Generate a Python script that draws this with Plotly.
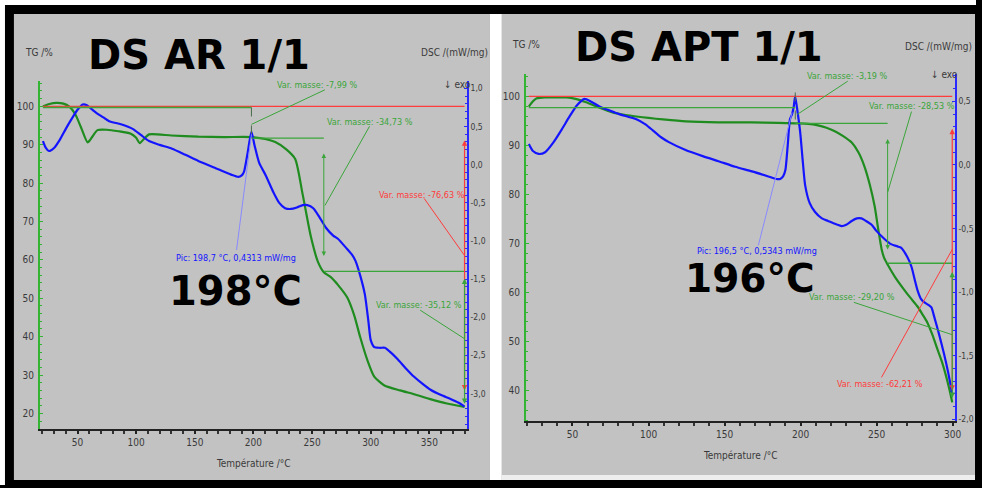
import plotly.graph_objects as go

W, H = 982, 488

# ---------------- DS AR 1/1 (left) ----------------
AR_TG_T = [20.5, 26, 32, 38, 43, 48, 53, 58.6, 62, 67, 75, 85, 95, 100, 103, 106, 111, 130, 153, 175,
           198, 210, 218.6, 228, 235.6, 242, 249, 255, 260, 266, 272, 280, 286, 291, 297, 303, 311.7,
           325, 337, 350, 365, 380]
AR_TG = [100.0, 100.6, 100.9, 100.7, 99.9, 98.0, 94.5, 90.6, 91.8, 93.8, 93.9, 93.5, 92.9, 91.8, 90.4,
         91.3, 92.7, 92.4, 92.1, 92.0, 92.0, 91.5, 90.7, 88.8, 86.3, 77.0, 66.0, 59.5, 56.8, 55.5, 53.5,
         50.2, 45.5, 39.9, 34.0, 29.6, 27.3, 26.0, 25.0, 23.8, 22.6, 21.7]
AR_DSC_T = [20.5, 23, 25.6, 30, 35, 40, 45, 50, 54.4, 58, 62, 66, 72, 77, 87, 97, 104, 111, 120, 130.6,
            142, 153, 167, 181, 187, 190, 192, 195, 198.3, 201, 205, 210.5, 217, 222, 227, 232, 237,
            242, 246, 251, 256, 262, 268, 272, 279, 284, 287, 291, 295, 298, 300, 303, 308, 312, 317,
            323, 330, 337, 344, 351, 360, 368, 375, 380]
AR_DSC = [0.31, 0.22, 0.18, 0.22, 0.33, 0.47, 0.60, 0.72, 0.79, 0.78, 0.73, 0.68, 0.62, 0.57, 0.53, 0.47,
          0.39, 0.31, 0.26, 0.21, 0.13, 0.05, -0.04, -0.13, -0.16, -0.14, -0.09, 0.15, 0.43, 0.25, 0.02,
          -0.14, -0.36, -0.50, -0.57, -0.58, -0.56, -0.53, -0.53, -0.57, -0.68, -0.83, -0.93, -0.97,
          -1.09, -1.18, -1.26, -1.45, -1.70, -2.05, -2.30, -2.39, -2.40, -2.40, -2.46, -2.55, -2.67,
          -2.78, -2.87, -2.95, -3.02, -3.07, -3.12, -3.17]
AR_DSC_TICKS = [1.0, 0.5, 0.0, -0.5, -1.0, -1.5, -2.0, -2.5, -3.0]
AR_STEP_T = [198.3, 260.0]
AR_LEVELS = [99.7, 91.7, 57.0, 21.85]
AR_LOSS = ["-7,99", "-34,73", "-35,12"]
AR_TOTAL = "-76,63"
AR_PEAK = ("198,7", "0,4313")
AR_ONSET = "198°C"

# ---------------- DS APT 1/1 (right) ----------------
APT_TG_T = [21.3, 24, 26.5, 32, 37.6, 46, 52, 59, 67, 76.8, 85, 92, 100, 109.5, 124.5, 146, 168, 185,
            196.4, 205, 211.4, 217, 222.5, 228, 233.6, 238, 242, 245.5, 248.7, 251, 253.3, 255, 257.2,
            262, 268, 272, 277, 280, 283.3, 286.5, 290, 293, 295.7, 298, 299.7]
APT_TG = [97.9, 99.0, 99.6, 99.8, 99.8, 99.8, 99.5, 98.8, 97.8, 96.7, 96.2, 95.9, 95.6, 95.3, 94.9, 94.7,
          94.7, 94.6, 94.5, 94.4, 94.1, 93.6, 92.9, 91.9, 90.6, 88.6, 85.7, 82.0, 77.6, 73.0, 68.8, 67.0,
          65.7, 63.2, 60.6, 59.0, 57.1, 55.6, 53.9, 51.5, 48.4, 45.8, 42.9, 40.0, 37.6]
APT_DSC_T = [21.3, 24, 27.8, 32, 37.6, 43, 48, 53, 57.9, 62, 67.7, 74, 80.7, 92, 98, 103, 108, 113.4, 124,
             135.6, 146, 157, 168, 178.8, 184, 186.6, 188.5, 190, 191.5, 193, 194.4, 195.5, 196.4, 197.5,
             199.7, 201.5, 203, 206, 209.5, 214, 218, 222, 227, 230, 233.6, 237, 240, 243, 246.7, 250,
             255, 259, 263.7, 266, 270, 272.9, 275, 277, 279, 281.4, 284, 286, 288, 291, 294.4, 297, 299.7]
APT_DSC = [0.165, 0.11, 0.087, 0.10, 0.18, 0.28, 0.38, 0.47, 0.52, 0.50, 0.46, 0.43, 0.40, 0.36, 0.32,
           0.27, 0.22, 0.18, 0.12, 0.07, 0.03, -0.014, -0.05, -0.09, -0.11, -0.11, -0.09, -0.04, 0.15,
           0.36, 0.40, 0.46, 0.54, 0.46, 0.26, 0.02, -0.16, -0.30, -0.37, -0.42, -0.44, -0.46, -0.48,
           -0.47, -0.44, -0.42, -0.42, -0.44, -0.47, -0.52, -0.58, -0.62, -0.64, -0.65, -0.72, -0.80,
           -0.90, -0.99, -1.05, -1.08, -1.10, -1.12, -1.20, -1.33, -1.49, -1.63, -1.80]
APT_DSC_TICKS = [0.5, 0.0, -0.5, -1.0, -1.5, -2.0]
APT_STEP_T = [196.5, 257.2]
APT_LEVELS = [97.7, 94.5, 65.97, 36.8]
APT_LOSS = ["-3,19", "-28,53", "-29,20"]
APT_TOTAL = "-62,21"
APT_PEAK = ("196,5", "0,5343")
APT_ONSET = "196°C"

TITLES = ["DS AR 1/1", "DS APT 1/1"]

# ---------------- styling ----------------
GRAY = "#c2c2c2"
GREEN = "#1f8c1f"
LGREEN = "#3aa53a"
BLUE = "#1414ff"
LBLUE = "#8a8aff"
RED = "#ff3b3b"
TXT = "#3a3a3a"
NARROW = "Liberation Sans Narrow, DejaVu Sans Condensed, Arial Narrow, sans-serif"
BOLD = "DejaVu Sans, Liberation Sans, sans-serif"


def px(x):
    return x / W


def py(y):
    return 1 - y / H


def fr(v):
    return f"{v:.1f}".replace(".", ",")


fig = go.Figure()

fig.add_trace(go.Scatter(x=AR_TG_T, y=AR_TG, mode="lines", xaxis="x", yaxis="y",
                         line=dict(color=GREEN, width=2.2, shape="spline", smoothing=0.6), showlegend=False))
fig.add_trace(go.Scatter(x=AR_DSC_T, y=AR_DSC, mode="lines", xaxis="x", yaxis="y2",
                         line=dict(color=BLUE, width=2.2, shape="spline", smoothing=0.6), showlegend=False))
fig.add_trace(go.Scatter(x=APT_TG_T, y=APT_TG, mode="lines", xaxis="x2", yaxis="y3",
                         line=dict(color=GREEN, width=2.2, shape="spline", smoothing=0.6), showlegend=False))
fig.add_trace(go.Scatter(x=APT_DSC_T, y=APT_DSC, mode="lines", xaxis="x2", yaxis="y4",
                         line=dict(color=BLUE, width=2.2, shape="spline", smoothing=0.6), showlegend=False))

shapes = []
# frame / background
shapes.append(dict(type="rect", xref="paper", yref="paper", x0=0, x1=1, y0=py(5), y1=1,
                   fillcolor="white", line_width=0, layer="below"))
shapes.append(dict(type="rect", xref="paper", yref="paper", x0=0, x1=px(5), y0=0, y1=1,
                   fillcolor="white", line_width=0, layer="below"))
shapes.append(dict(type="rect", xref="paper", yref="paper", x0=px(14), x1=px(493), y0=py(483), y1=py(14),
                   fillcolor=GRAY, line_width=0, layer="below"))
shapes.append(dict(type="rect", xref="paper", yref="paper", x0=px(493), x1=px(505), y0=py(483), y1=py(14),
                   fillcolor="white", line_width=0, layer="below"))
shapes.append(dict(type="rect", xref="paper", yref="paper", x0=px(505), x1=px(981), y0=py(483), y1=py(478),
                   fillcolor="#eeeeee", line_width=0, layer="below"))
shapes.append(dict(type="rect", xref="paper", yref="paper", x0=px(505), x1=px(981), y0=py(478), y1=py(14),
                   fillcolor=GRAY, line_width=0, layer="below"))

annotations = []


def panel(xr, yr, tg_t, levels, step_t, xmax, red_span, green_span, arrow_span, marker_dash):
    x0 = tg_t[0]
    # red 100 % baseline
    shapes.append(dict(type="line", xref=xr, yref=yr, x0=x0, x1=xmax, y0=100, y1=100,
                       line=dict(color=RED, width=1.3)))
    # step level lines
    shapes.append(dict(type="line", xref=xr, yref=yr, x0=x0, x1=step_t[0], y0=levels[0], y1=levels[0],
                       line=dict(color=LGREEN, width=1.3)))
    shapes.append(dict(type="line", xref=xr, yref=yr, x0=step_t[0], x1=step_t[1], y0=levels[1], y1=levels[1],
                       line=dict(color=LGREEN, width=1.3)))
    shapes.append(dict(type="line", xref=xr, yref=yr, x0=step_t[1], x1=xmax, y0=levels[2], y1=levels[2],
                       line=dict(color=LGREEN, width=1.3)))
    # step 1 marker
    shapes.append(dict(type="line", xref=xr, yref=yr, x0=step_t[0], x1=step_t[0],
                       y0=marker_dash[0], y1=marker_dash[1],
                       line=dict(color="#4b6b4b", width=1, dash="dash")))
    # step 2 double arrow
    annotations.append(dict(xref=xr, yref=yr, axref=xr, ayref=yr, x=step_t[1], y=arrow_span[1],
                            ax=step_t[1], ay=arrow_span[0], text="", showarrow=True, arrowside="end+start",
                            arrowhead=2, arrowsize=0.9, arrowwidth=1, arrowcolor=LGREEN))
    # total (red) and last step (green) along right axis
    annotations.append(dict(xref=xr, yref=yr, axref=xr, ayref=yr, x=xmax, y=red_span[1],
                            ax=xmax, ay=red_span[0], text="", showarrow=True, arrowside="end+start",
                            arrowhead=2, arrowsize=0.9, arrowwidth=1.2, arrowcolor=RED))
    annotations.append(dict(xref=xr, yref=yr, axref=xr, ayref=yr, x=xmax, y=green_span[1],
                            ax=xmax, ay=green_span[0], text="", showarrow=True, arrowside="end+start",
                            arrowhead=2, arrowsize=0.9, arrowwidth=1.2, arrowcolor=LGREEN))


panel("x", "y", AR_TG_T, AR_LEVELS, AR_STEP_T, AR_TG_T[-1], (91.5, 26.0), (55.5, 22.5), (88.1, 61.0),
      (99.7, 92.3))
panel("x2", "y3", APT_TG_T, APT_LEVELS, APT_STEP_T, APT_TG_T[-1], (93.7, 40.0), (64.5, 38.5), (91.6, 68.8),
      (100.8, 93.9))


def label(xr, yr, x, y, text, color, lead=None, lcolor=None, size=9):
    annotations.append(dict(xref=xr, yref=yr, x=x, y=y, text=text, showarrow=False,
                            font=dict(family=NARROW, size=size, color=color),
                            xanchor="center", yanchor="middle"))
    if lead:
        shapes.append(dict(type="line", xref=xr, yref=yr, x0=lead[0], y0=lead[1], x1=lead[2], y1=lead[3],
                           line=dict(color=lcolor or color, width=1)))


# left panel labels
label("x", "y", 255.0, 105.6, f"Var. masse: {AR_LOSS[0]} %", LGREEN, (260.9, 104.3, 198.3, 95.3))
label("x", "y", 299.0, 95.8, f"Var. masse: {AR_LOSS[1]} %", LGREEN, (299.0, 94.8, 261.0, 74.2))
label("x", "y", 343.9, 77.0, f"Var. masse: {AR_TOTAL} %", RED, (345.6, 76.0, 380.3, 61.0))
label("x", "y", 184.8, 60.5, f"Pic: {AR_PEAK[0]} °C, {AR_PEAK[1]} mW/mg", BLUE,
      (185.6, 62.6, 198.3, 92.7), LBLUE)
label("x", "y", 341.4, 48.2, f"Var. masse: {AR_LOSS[2]} %", LGREEN, (342.2, 46.9, 380.3, 39.4))

# right panel labels
label("x2", "y3", 231.0, 104.1, f"Var. masse: {APT_LOSS[0]} %", LGREEN, (231.0, 103.1, 197.7, 96.3))
label("x2", "y3", 273.5, 98.0, f"Var. masse: {APT_LOSS[1]} %", LGREEN, (272.9, 96.9, 257.2, 80.4))
label("x2", "y3", 171.6, 68.4, f"Pic: {APT_PEAK[0]} °C, {APT_PEAK[1]} mW/mg", BLUE,
      (172.2, 69.6, 194.4, 96.7), LBLUE)
label("x2", "y3", 234.0, 59.0, f"Var. masse: {APT_LOSS[2]} %", LGREEN, (235.0, 58.0, 299.7, 51.4))
label("x2", "y3", 251.9, 41.4, f"Var. masse: {APT_TOTAL} %", RED, (253.2, 42.7, 299.7, 68.8))

# big texts
for (xp, yp, t, sz) in [(200, 55, TITLES[0], 40), (703, 47, TITLES[1], 40),
                        (237, 293, AR_ONSET, 40), (755, 280, APT_ONSET, 39)]:
    annotations.append(dict(xref="paper", yref="paper", x=px(xp), y=py(yp), text=f"<b>{t}</b>",
                            showarrow=False, xanchor="center", yanchor="middle",
                            font=dict(family=BOLD, size=sz, color="black")))

# axis header labels
for (xp, yp, t, anc) in [(39, 53, "TG /%", "center"), (529, 45, "TG /%", "center"),
                         (493, 53, "DSC /(mW/mg)", "right"), (980, 47, "DSC /(mW/mg)", "right"),
                         (460, 85, "↓ exo", "center"), (950, 75, "↓ exo", "center"),
                         (255, 466, "Température /°C", "center"), (745, 458, "Température /°C", "center")]:
    annotations.append(dict(xref="paper", yref="paper", x=px(xp), y=py(yp), text=t, showarrow=False,
                            xanchor=anc, yanchor="middle", font=dict(family=NARROW, size=10, color=TXT)))

tickfont = dict(family=NARROW, size=10, color=TXT)
dsctickfont = dict(family=NARROW, size=8.5, color=TXT)


def xaxis(dom, rng, anchor):
    return dict(domain=dom, range=rng, anchor=anchor, showgrid=False, zeroline=False, showline=True,
                linecolor="#222222", linewidth=2, ticks="outside", ticklen=3, tickcolor="#222222",
                tickwidth=1.5, dtick=50, tick0=0, tickfont=tickfont,
                minor=dict(dtick=10, ticks="outside", ticklen=3, tickcolor="#333333"))


def tgaxis(dom, rng, anchor):
    return dict(domain=dom, range=rng, anchor=anchor, showgrid=False, zeroline=False, showline=True,
                linecolor="#33b533", linewidth=1.5, ticks="inside", ticklen=3, tickcolor="#33b533",
                dtick=10, tick0=0, tickfont=tickfont, ticklabelstandoff=2,
                minor=dict(dtick=2, ticks="inside", ticklen=2, tickcolor="#33b533"))


def dscaxis(rng, anchor, over, ticks):
    return dict(range=rng, anchor=anchor, overlaying=over, side="right", showgrid=False, zeroline=False,
                showline=True, linecolor="#2a2aff", linewidth=1.5, ticks="inside", ticklen=3,
                tickcolor="#2a2aff", tickmode="array", tickvals=ticks, ticktext=[fr(v) for v in ticks],
                tickfont=dsctickfont, ticklabelstandoff=0,
                minor=dict(dtick=0.1, tick0=0, ticks="inside", ticklen=2, tickcolor="#2a2aff"))


fig.update_layout(
    width=W, height=H, margin=dict(l=0, r=0, t=0, b=0), autosize=False,
    paper_bgcolor="black", plot_bgcolor="rgba(0,0,0,0)", separators=", ",
    xaxis=xaxis([px(40), px(470)], [17.8, 382.2], "y"),
    yaxis=tgaxis([py(432), py(82)], [15.86, 106.47], "x"),
    yaxis2=dscaxis([-3.469, 1.091], "x", "y", AR_DSC_TICKS),
    xaxis2=xaxis([px(529), px(961)], [19.3, 301.6], "y3"),
    yaxis3=tgaxis([py(424), py(74)], [33.72, 104.66], "x2"),
    yaxis4=dscaxis([-2.016, 0.719], "x2", "y3", APT_DSC_TICKS),
    shapes=shapes, annotations=annotations, showlegend=False,
)

fig.write_html("out.html", config={"displayModeBar": False},
               post_script="document.body.style.margin='0';document.body.style.overflow='hidden';")
